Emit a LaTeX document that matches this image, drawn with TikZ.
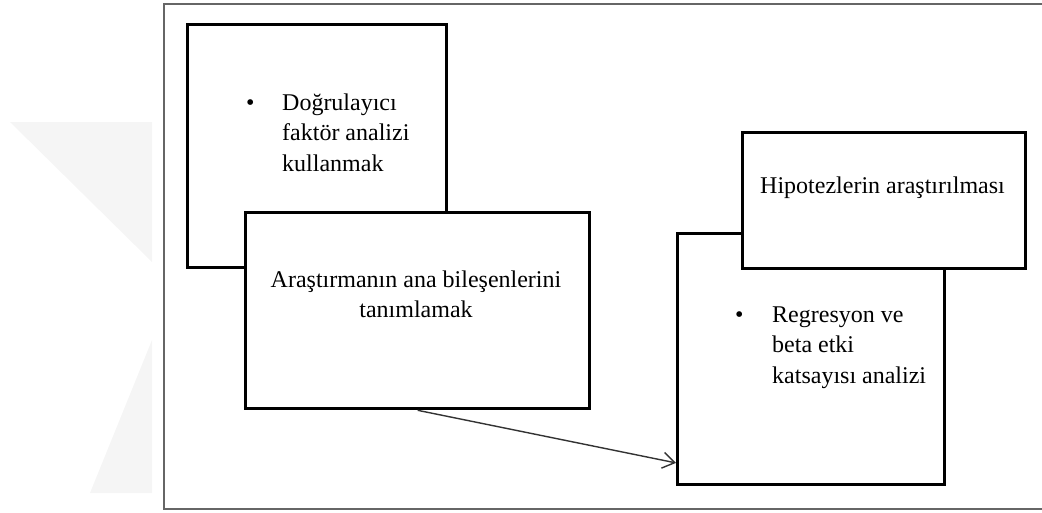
\documentclass[tikz,border=0pt]{standalone}
\usepackage{fontspec}
\setmainfont{Liberation Serif}
\usetikzlibrary{arrows.meta,calc}
\begin{document}
\begin{tikzpicture}[x=1pt,y=-1pt,
  box/.style={draw=black,line width=3.3pt,fill=white,inner sep=0pt,anchor=north west},
  lbl/.style={inner sep=0pt,font=\fontsize{24}{30.5}\selectfont},
  frame/.style={draw=black!60,line width=1.8pt,fill=white,inner sep=0pt,anchor=north west},
  wm/.style={fill=black!4,draw=none},
  conn/.style={draw=black!80,line width=1.4pt,-{Straight Barb[length=12pt,width=16pt,line width=1.4pt]}}]
\useasboundingbox (0,0) rectangle (1042,512);
% faint watermark
\fill[wm] (10,122) -- (152,122) -- (152,262) -- cycle;
\fill[wm] (152,340) -- (152,493) -- (90,493) -- cycle;
% outer frame (its right side runs past the picture's edge)
\node[frame,minimum width=890pt,minimum height=505pt] (F) at (163,3) {};
% box A
\node[box,minimum width=259pt,minimum height=243pt] (A) at (186,23) {};
\node[lbl,anchor=base west] (tA) at (246,110) {\begin{tabular}[t]{@{}p{36pt}@{}l@{}}\textbullet & Doğrulayıcı\\ & faktör analizi\\ & kullanmak\end{tabular}};
% box B
\node[box,minimum width=344pt,minimum height=196pt] (B) at (244,211) {};
\node[lbl,anchor=base] (tB) at (416,287) {\begin{tabular}[t]{@{}c@{}}Araştırmanın ana bileşenlerini\\ tanımlamak\end{tabular}};
% box C
\node[box,minimum width=267pt,minimum height=251pt] (C) at (676,232) {};
\node[lbl,anchor=base west] (tC) at (735,322) {\begin{tabular}[t]{@{}p{37pt}@{}l@{}}\textbullet & Regresyon ve\\ & beta etki\\ & katsayısı analizi\end{tabular}};
% box D
\node[box,minimum width=283pt,minimum height=136pt] (D) at (741,131) {};
\node[lbl,anchor=base west] (tD) at (760,193) {Hipotezlerin araştırılması};
% connector
\draw[conn] (B.south) -- ($(C.north west)!0.908!(C.south west)$);
\end{tikzpicture}
\end{document}
